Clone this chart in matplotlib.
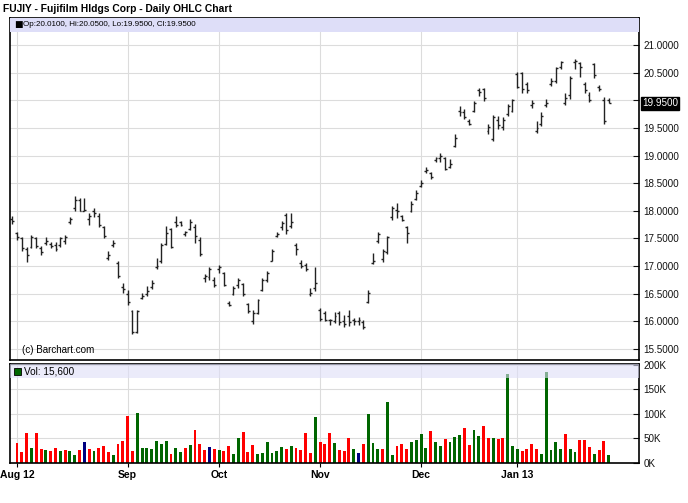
import numpy as np
import matplotlib
matplotlib.use("Agg")
import matplotlib.pyplot as plt
from matplotlib.patches import Rectangle

plt.rcParams['font.family'] = ['Liberation Sans', 'DejaVu Sans']

# trading-day index: -1 = Jul 31 2012, 0 = Aug 1 2012 ... 123 = Jan 29 2013
month_pos = [0, 23, 42, 63, 84, 104]
month_labels = ['Aug 12', 'Sep', 'Oct', 'Nov', 'Dec', 'Jan 13']

opens = [17.85,
         17.60, 17.50, 17.30, 17.35, 17.50, 17.33, 17.42, 17.40, 17.38, 17.38,
         17.45, 17.80, 18.05, 18.20, 18.00, 17.85, 18.00, 17.90, 17.70, 17.15,
         17.38, 17.05, 16.62, 16.50, 16.18, 15.80, 16.42, 16.50, 16.62, 16.98,
         17.10, 17.40, 17.68, 17.80, 17.80, 17.58, 17.68, 17.70, 17.48, 16.78,
         16.80, 16.75, 16.95, 16.88, 16.33, 16.50, 16.65, 16.68, 16.32, 16.00,
         16.15, 16.56, 16.75, 17.10, 17.55, 17.70, 17.92, 17.72, 17.38, 17.05,
         17.02, 16.50, 16.60, 16.20, 16.15, 16.02, 16.00, 16.15, 16.00, 16.10,
         16.02, 16.00, 15.98, 16.35, 17.06, 17.45, 17.12, 17.25, 17.88, 18.02,
         17.90, 17.70, 18.00, 18.22, 18.45, 18.72, 18.68, 18.92, 18.95, 18.95,
         18.80, 19.18, 19.80, 19.78, 19.62, 19.80, 20.18, 20.20, 19.45, 19.30,
         19.65, 19.52, 19.75, 19.80, 20.48, 20.50, 20.30, 19.92, 19.45, 19.58,
         19.92, 20.30, 20.35, 20.60, 19.95, 20.10, 20.70, 20.68, 20.30, 20.10,
         20.66, 20.25, 20.00, 20.01]
highs = [17.90,
         17.62, 17.52, 17.35, 17.56, 17.52, 17.37, 17.52, 17.44, 17.43, 17.53,
         17.56, 17.89, 18.26, 18.24, 18.24, 17.96, 18.06, 17.96, 17.72, 17.28,
         17.47, 17.09, 16.69, 16.57, 16.21, 16.20, 16.51, 16.64, 16.75, 17.14,
         17.41, 17.73, 17.69, 17.90, 17.82, 17.64, 17.85, 17.76, 17.52, 16.86,
         16.99, 16.80, 17.02, 16.90, 16.36, 16.64, 16.79, 16.70, 16.34, 16.21,
         16.41, 16.79, 16.91, 17.31, 17.62, 17.81, 17.96, 17.96, 17.41, 17.11,
         17.05, 16.61, 16.99, 16.25, 16.18, 16.05, 16.17, 16.19, 16.11, 16.21,
         16.06, 16.07, 16.03, 16.57, 17.23, 17.61, 17.31, 17.55, 18.08, 18.14,
         17.93, 17.72, 18.17, 18.37, 18.55, 18.80, 18.71, 18.97, 19.04, 18.98,
         18.93, 19.39, 19.89, 19.84, 19.67, 19.99, 20.23, 20.22, 19.57, 19.73,
         19.71, 19.70, 19.94, 20.03, 20.52, 20.52, 20.34, 20.00, 19.63, 19.78,
         20.02, 20.41, 20.61, 20.72, 20.14, 20.44, 20.74, 20.70, 20.34, 20.15,
         20.68, 20.28, 20.06, 20.05]
lows = [17.76,
        17.47, 17.28, 17.07, 17.33, 17.33, 17.20, 17.38, 17.32, 17.27, 17.35,
        17.40, 17.76, 17.99, 17.99, 17.99, 17.75, 17.88, 17.70, 17.51, 17.11,
        17.35, 16.79, 16.51, 16.30, 15.77, 15.78, 16.40, 16.45, 16.58, 16.94,
        17.05, 17.38, 17.32, 17.71, 17.72, 17.55, 17.65, 17.41, 17.18, 16.72,
        16.75, 16.62, 16.87, 16.64, 16.27, 16.48, 16.60, 16.46, 16.15, 15.95,
        16.13, 16.54, 16.71, 17.09, 17.52, 17.65, 17.58, 17.69, 17.20, 16.97,
        16.91, 16.45, 16.54, 16.00, 16.00, 15.94, 15.97, 15.93, 15.89, 15.91,
        15.94, 15.93, 15.86, 16.33, 17.04, 17.42, 17.08, 17.22, 17.83, 17.87,
        17.81, 17.42, 17.97, 18.20, 18.43, 18.68, 18.57, 18.89, 18.89, 18.73,
        18.77, 19.16, 19.72, 19.66, 19.55, 19.78, 20.07, 19.98, 19.39, 19.26,
        19.49, 19.47, 19.72, 19.78, 20.22, 20.13, 20.14, 19.87, 19.41, 19.54,
        19.88, 20.26, 20.31, 20.56, 19.91, 20.03, 20.56, 20.43, 20.14, 19.97,
        20.40, 20.16, 19.57, 19.95]
closes = [17.82,
          17.52, 17.32, 17.20, 17.52, 17.36, 17.25, 17.45, 17.36, 17.30, 17.50,
          17.52, 17.85, 18.20, 18.00, 18.02, 17.90, 17.96, 17.75, 17.55, 17.20,
          17.42, 16.82, 16.58, 16.35, 15.80, 16.18, 16.45, 16.55, 16.70, 17.00,
          17.38, 17.60, 17.35, 17.75, 17.74, 17.62, 17.80, 17.55, 17.22, 16.82,
          16.95, 16.66, 16.98, 16.66, 16.30, 16.60, 16.75, 16.50, 16.18, 16.15,
          16.38, 16.75, 16.88, 17.28, 17.58, 17.78, 17.65, 17.80, 17.30, 17.00,
          16.95, 16.52, 16.70, 16.05, 16.02, 16.03, 16.10, 15.98, 15.95, 15.98,
          16.00, 16.02, 15.90, 16.52, 17.10, 17.58, 17.28, 17.52, 18.05, 18.00,
          17.84, 17.60, 18.12, 18.33, 18.50, 18.74, 18.62, 18.95, 19.00, 18.76,
          18.85, 19.32, 19.78, 19.70, 19.58, 19.96, 20.15, 20.05, 19.52, 19.70,
          19.55, 19.65, 19.90, 20.00, 20.25, 20.20, 20.18, 19.95, 19.50, 19.72,
          19.96, 20.35, 20.58, 20.70, 20.05, 20.40, 20.72, 20.60, 20.18, 20.00,
          20.45, 20.20, 19.62, 19.95]

# volume in thousands, bars 0..123
volume = [41, 22, 61, 31, 61, 29, 26, 24, 30, 24,
          27, 24, 16, 27, 42, 28, 24, 30, 34, 22,
          16, 38, 45, 95, 24, 103, 30, 30, 29, 44,
          38, 44, 18, 30, 22, 30, 36, 67, 38, 26,
          32, 28, 27, 24, 34, 18, 52, 63, 22, 36,
          18, 20, 42, 20, 24, 32, 28, 34, 30, 27,
          61, 20, 93, 42, 38, 61, 40, 26, 24, 52,
          29, 21, 39, 99, 41, 28, 29, 124, 16, 34,
          39, 28, 42, 46, 60, 31, 65, 42, 34, 48,
          42, 54, 58, 72, 36, 68, 56, 76, 50, 50,
          48, 50, 182, 35, 29, 24, 28, 39, 28, 19,
          186, 26, 42, 28, 60, 29, 22, 46, 46, 32,
          18, 26, 44, 15.6]
vol_dir = ('rrrgrrgrrg' 'rggrbrgrrr' 'grrrrggggg' 'ggrggrgrrr'
           'brgrrggrrr' 'ggggggrgrr' 'rrgrrrgrrr' 'gbrgggrggr'
           'rrggggrggr' 'gggrrggrrg' 'rrgggrrrrg' 'ggggrggrrr' 'grrg')

price_ticks = [15.5, 16.0, 16.5, 17.0, 17.5, 18.0, 18.5, 19.0, 19.5, 20.0, 20.5, 21.0]

cmap = {'r': '#ff0000', 'g': '#006600', 'b': '#000080'}
grid_c = '#dcdcdc'
strip_c = '#dedef8'

fig = plt.figure(figsize=(6.88, 5.03), dpi=100)
ax = fig.add_axes([10 / 688, 1 - 360 / 503, 629 / 688, 342 / 503])
axv = fig.add_axes([10 / 688, 1 - 463 / 503, 629 / 688, 99 / 503])

xp = np.arange(-1, len(opens) - 1)
xv = np.arange(len(volume))
xlim = (-1.46, 129.3)

# price panel
ax.vlines(xp, lows, highs, color='#222222', lw=1.0)
ax.hlines(opens, xp - 0.4, xp, color='#222222', lw=1.0)
ax.hlines(closes, xp, xp + 0.4, color='#222222', lw=1.0)
ax.set_xlim(*xlim)
ax.set_ylim(15.30, 21.49)
ax.set_yticks(price_ticks)
# the last-price box takes the place of the 20.0000 label
ax.set_yticklabels(['' if v == 20.0 else '%.4f' % v for v in price_ticks])
ax.yaxis.tick_right()
ax.tick_params(axis='y', direction='in', length=4, width=0.8, pad=3,
               labelsize=7.1, colors='#111111')
ax.set_xticks(month_pos)
ax.tick_params(axis='x', length=0, labelbottom=False)
ax.grid(True, color=grid_c, lw=0.8)
ax.set_axisbelow(True)
for s in ax.spines.values():
    s.set_linewidth(1.2)
ax.add_patch(Rectangle((0, 1 - 14 / 342), 1, 14 / 342, transform=ax.transAxes,
                       color=strip_c, zorder=3, lw=0))
ax.text(4 / 629, 1 - 7 / 342, '\u25a0', transform=ax.transAxes, fontsize=6.5,
        va='center', ha='left', family=['DejaVu Sans'], zorder=4)
ax.text(13 / 629, 1 - 7 / 342, 'Op:20.0100, Hi:20.0500, Lo:19.9500, Cl:19.9500',
        transform=ax.transAxes, fontsize=5.8, va='center', ha='left', zorder=4)
ax.text(12 / 629, 10 / 342, '(c) Barchart.com', transform=ax.transAxes,
        fontsize=7.1, va='center', ha='left')
ax.text(1.0 + 3 / 629, closes[-1], '%.4f' % closes[-1], transform=ax.get_yaxis_transform(),
        fontsize=7.1, color='white', va='center', ha='left', zorder=5,
        bbox=dict(boxstyle='square,pad=0.15', fc='black', ec='black'))

# volume panel
axv.bar(xv, volume, width=0.6, color=[cmap[c] for c in vol_dir], zorder=2)
axv.set_xlim(*xlim)
axv.set_ylim(0, 202)
axv.set_yticks([0, 50, 100, 150, 200])
axv.set_yticklabels(['0K', '50K', '100K', '150K', '200K'])
axv.yaxis.tick_right()
axv.tick_params(axis='y', direction='in', length=4, width=0.8, pad=3,
                labelsize=7.1, colors='#111111')
axv.set_xticks(month_pos)
axv.set_xticklabels(month_labels, fontsize=7.5, fontweight='bold')
axv.tick_params(axis='x', direction='out', length=3, pad=2)
axv.grid(True, color=grid_c, lw=0.8, zorder=0)
axv.set_axisbelow(True)
for s in axv.spines.values():
    s.set_linewidth(1.2)
axv.add_patch(Rectangle((0, 1 - 14 / 99), 1, 14 / 99, transform=axv.transAxes,
                        color=strip_c, alpha=0.6, zorder=3, lw=0))
axv.add_patch(Rectangle((4 / 629, 1 - 11 / 99), 7 / 629, 7 / 99, transform=axv.transAxes,
                        fc='#006600', ec='black', lw=0.6, zorder=4))
axv.text(14 / 629, 1 - 7.5 / 99, 'Vol: 15,600', transform=axv.transAxes,
         fontsize=7.2, va='center', ha='left', zorder=4)

fig.text(3 / 688, 1 - 9 / 503, 'FUJIY - Fujifilm Hldgs Corp - Daily OHLC Chart',
         fontsize=7.4, fontweight='bold', va='center', ha='left')

fig.savefig('out.png', dpi=100)
